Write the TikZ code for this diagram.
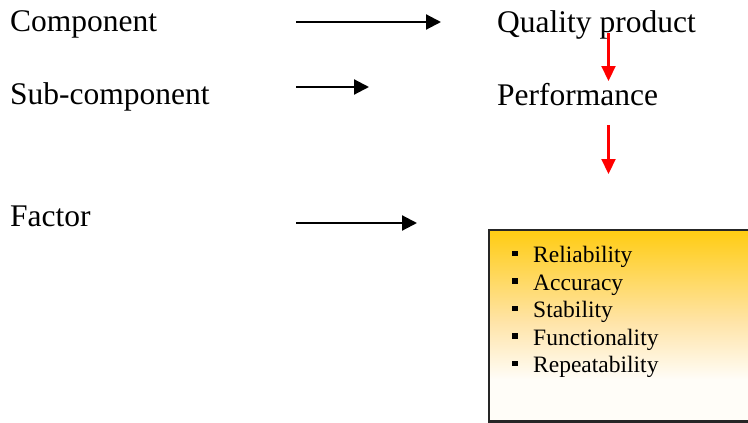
\documentclass[tikz,border=0pt]{standalone}
\usepackage{fontspec}
\setmainfont{Liberation Serif}
\usetikzlibrary{arrows.meta}
\definecolor{boxgold}{RGB}{255,204,18}
\definecolor{boxmid}{RGB}{255,228,168}
\definecolor{boxlow}{RGB}{255,253,248}
% the filled path spans 25bp (bottom) to 75bp (top) of the shading
\pgfdeclareverticalshading{boxfade}{100bp}{%
  color(0bp)=(boxlow); color(36bp)=(boxlow); color(51bp)=(boxmid); color(75bp)=(boxgold); color(100bp)=(boxgold)}
\newcommand{\sqbullet}{\raisebox{6.3pt}{\rule{5.4pt}{5.4pt}}\hspace{15.6pt}}
\tikzset{
  label/.style={anchor=base west, inner sep=0pt, font=\fontsize{31.5}{36}\selectfont},
  item/.style={anchor=base west, inner sep=0pt, font=\fontsize{23.5}{27}\selectfont},
  blackarrow/.style={line width=2.2pt, -{Triangle[length=15pt,width=15pt]}},
  redarrow/.style={red, line width=2.2pt, -{Triangle[length=15pt,width=14pt]}},
}
\begin{document}
\begin{tikzpicture}[x=1pt, y=-1pt]
  \useasboundingbox (0,0) rectangle (748,423);

  % left column
  \node[label] (comp) at (10,31.7) {Component};
  \node[label] (sub) at (10,104.3) {Sub-component};
  \node[label] (fact) at (10,226) {Factor};

  % right column
  \node[label] (qp) at (497,32) {Quality product};
  \node[label] (perf) at (497,105) {Performance};

  % horizontal arrows
  \coordinate (a1s) at (296,22);  \coordinate (a1e) at (441,22);
  \coordinate (a2s) at (296,87);  \coordinate (a2e) at (369,87);
  \coordinate (a3s) at (296,223); \coordinate (a3e) at (417,223);
  \draw[blackarrow] (a1s) -- (a1e);
  \draw[blackarrow] (a2s) -- (a2e);
  \draw[blackarrow] (a3s) -- (a3e);

  % downward arrows
  \coordinate (r1s) at (608.5,33);  \coordinate (r1e) at (608.5,81);
  \coordinate (r2s) at (608.5,125); \coordinate (r2e) at (608.5,174);
  \draw[redarrow] (r1s) -- (r1e);
  \draw[redarrow] (r2s) -- (r2e);

  % factor box
  \shade[shading=boxfade] (489,230) rectangle (760,422);
  \draw[line width=2.2pt, black!85] (489,230) rectangle (760,421.5);

  \node[item] (i1) at (512,262.5) {\sqbullet Reliability};
  \node[item] (i2) at (512,290)   {\sqbullet Accuracy};
  \node[item] (i3) at (512,317.5) {\sqbullet Stability};
  \node[item] (i4) at (512,345)   {\sqbullet Functionality};
  \node[item] (i5) at (512,372.5) {\sqbullet Repeatability};
\end{tikzpicture}
\end{document}
